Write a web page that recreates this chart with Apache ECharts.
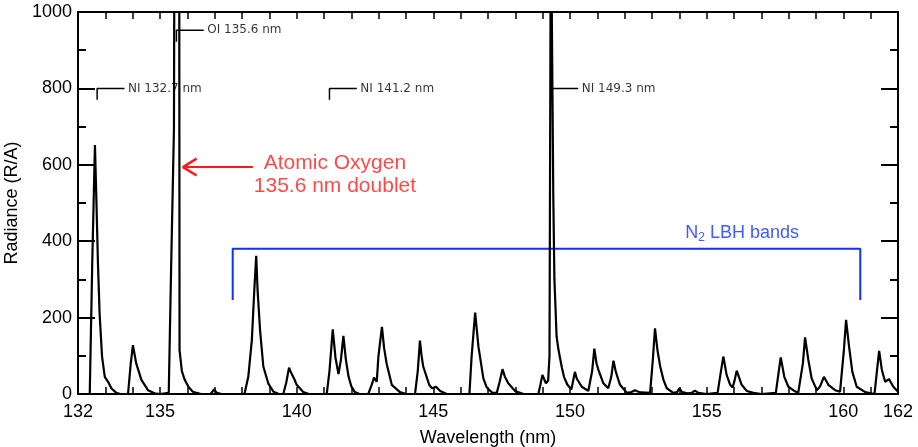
<!DOCTYPE html>
<html>
<head>
<meta charset="utf-8">
<script src="https://cdn.jsdelivr.net/npm/echarts@6/dist/echarts.min.js"></script>
<style>
  html, body { margin: 0; padding: 0; background: #fff; }
  #spectrum { width: 918px; height: 447px; }
</style>
</head>
<body>
<div id="spectrum"></div>
<script>
// tick labels shown on the wavelength axis
var xTickLabels = [132, 135, 140, 145, 150, 155, 160, 162];

// [wavelength nm, radiance R/A]
var spectrum = [
  [132.00, 0], [132.43, 0], [132.52, 340], [132.62, 652], [132.67, 516], [132.73, 342], [132.79, 211],
  [132.88, 98], [132.98, 45], [133.05, 40], [133.10, 32], [133.22, 15], [133.40, 3], [133.55, 0],
  [133.83, 0], [133.93, 80], [134.01, 128], [134.13, 80], [134.32, 37], [134.56, 10], [134.80, 2], [135.00, 0],
  [135.32, 3], [135.41, 342], [135.51, 691], [135.57, 2500], [135.63, 1500], [135.69, 2500], [135.715, 115],
  [135.80, 60], [135.90, 38], [136.04, 19], [136.20, 6], [136.50, 0],
  [136.85, 0], [136.98, 12], [137.08, 3], [137.25, 0],
  [138.09, 0], [138.23, 45], [138.36, 141], [138.45, 272], [138.52, 362], [138.57, 272], [138.66, 168],
  [138.78, 72], [138.96, 28], [139.15, 6], [139.35, 0],
  [139.51, 0], [139.62, 30], [139.72, 69], [139.78, 58], [139.84, 54], [139.92, 38], [140.00, 24], [140.24, 5], [140.45, 0],
  [141.10, 0], [141.20, 60], [141.32, 169], [141.42, 95], [141.53, 52], [141.62, 90], [141.71, 152],
  [141.80, 90], [141.90, 45], [142.00, 20], [142.13, 5], [142.30, 0],
  [142.62, 0], [142.75, 25], [142.83, 43], [142.93, 32], [142.99, 98], [143.12, 176], [143.20, 120],
  [143.29, 80], [143.48, 24], [143.78, 5], [144.00, 0],
  [144.33, 0], [144.43, 60], [144.51, 140], [144.57, 100], [144.63, 72], [144.85, 24], [144.95, 15],
  [145.10, 19], [145.25, 8], [145.49, 0],
  [146.32, 0], [146.40, 98], [146.53, 213], [146.65, 124], [146.83, 41], [146.95, 18], [147.05, 10], [147.15, 4],
  [147.32, 3], [147.42, 30], [147.53, 65], [147.62, 45], [147.74, 28], [147.99, 8], [148.30, 0],
  [148.84, 0], [148.92, 25], [148.99, 50], [149.06, 38], [149.12, 28], [149.20, 35], [149.25, 100],
  [149.30, 1300], [149.39, 508], [149.43, 300], [149.51, 150], [149.58, 115], [149.70, 70], [149.78, 45],
  [149.90, 25], [150.05, 12],
  [150.10, 15], [150.18, 58], [150.25, 40], [150.43, 19], [150.67, 8], [150.81, 60], [150.89, 119],
  [150.97, 80], [151.04, 63], [151.22, 28], [151.40, 15], [151.51, 45], [151.59, 87], [151.67, 60],
  [151.77, 37], [151.83, 24], [152.08, 3], [152.25, 5], [152.38, 10], [152.50, 6], [152.62, 4], [152.93, 3],
  [153.03, 89], [153.11, 172], [153.20, 115], [153.30, 72], [153.42, 37], [153.54, 15], [153.78, 3],
  [153.92, 5], [154.00, 15], [154.10, 5], [154.30, 2], [154.45, 3], [154.57, 9], [154.70, 3], [155.00, 0],
  [155.40, 3], [155.51, 54], [155.61, 98], [155.73, 50], [155.86, 24], [155.95, 17], [156.02, 35],
  [156.10, 61], [156.28, 24], [156.47, 8], [156.71, 3], [157.00, 0],
  [157.53, 3], [157.62, 50], [157.71, 96], [157.84, 45], [157.99, 19], [158.23, 7], [158.35, 3],
  [158.42, 3], [158.52, 80], [158.60, 148], [158.72, 89], [158.84, 41], [159.03, 10], [159.15, 20],
  [159.29, 45], [159.45, 24], [159.70, 10], [159.88, 6],
  [159.92, 5], [160.02, 115], [160.10, 194], [160.21, 124], [160.33, 58], [160.49, 19], [160.80, 5], [161.00, 2],
  [161.14, 0], [161.22, 54], [161.31, 113], [161.41, 63], [161.53, 32], [161.67, 39], [161.83, 19], [162.00, 6]
];

// emission line markers
var lineNames = ['NI 132.7 nm', 'OI 135.6 nm', 'NI 141.2 nm', 'NI 149.3 nm'];
var lineWaves = [132.7, 135.6, 141.2, 149.3];
var lineLevels = [800, 952, 800, 800];

// N2 LBH bracket (x range, foot and top level)
var lbhRange = [137.66, 160.62];
var lbhLevels = [246, 380];

// atomic oxygen arrow
var oxygenShaft = [[138.4, 594], [135.84, 594]];
var oxygenHead = [[136.34, 616], [135.84, 594], [136.34, 572]];

var font = '"Liberation Sans", Arial, Helvetica, sans-serif';
var red = '#ff1a1a';
var blue = '#1030ff';

function blankScatter(point, label) {
  return {
    type: 'scatter',
    data: [point],
    symbolSize: 1,
    itemStyle: { color: 'rgba(0,0,0,0)' },
    silent: true,
    label: label,
    z: 5
  };
}

var series = [];

series.push({
  type: 'line',
  data: spectrum,
  symbol: 'none',
  lineStyle: { color: '#000', width: 2.2 },
  silent: true,
  z: 3
});

lineWaves.forEach(function (w, i) {
  var lv = lineLevels[i];
  series.push({
    type: 'line',
    data: [[w, lv - 30], [w, lv], [w + 1, lv]],
    symbol: 'none',
    lineStyle: { color: '#000', width: 1.5 },
    silent: true,
    z: 2
  });
  series.push(blankScatter([w + 1, lv], {
    show: true,
    position: 'right',
    distance: 3,
    formatter: lineNames[i],
    color: '#000',
    fontFamily: '"DejaVu Sans", sans-serif',
    fontSize: 12
  }));
});

// blue bracket
series.push({
  type: 'line',
  data: [[lbhRange[0], lbhLevels[0]], [lbhRange[0], lbhLevels[1]], [lbhRange[1], lbhLevels[1]], [lbhRange[1], lbhLevels[0]]],
  symbol: 'none',
  lineStyle: { color: blue, width: 2 },
  silent: true,
  z: 2
});
series.push(blankScatter([156.3, 421], {
  show: true,
  position: 'inside',
  formatter: '{a|N}{s|2}{a| LBH bands}',
  rich: {
    a: { color: blue, fontSize: 18, fontFamily: font, lineHeight: 22 },
    s: { color: blue, fontSize: 12, fontFamily: font, lineHeight: 22, verticalAlign: 'bottom', padding: [8, 0, 0, 0] }
  }
}));

// red arrow and text
series.push({
  type: 'line',
  data: oxygenShaft,
  symbol: 'none',
  lineStyle: { color: red, width: 2 },
  silent: true,
  z: 4
});
series.push({
  type: 'line',
  data: oxygenHead,
  symbol: 'none',
  lineStyle: { color: red, width: 2.5 },
  silent: true,
  z: 4
});
series.push(blankScatter([141.4, 573], {
  show: true,
  position: 'inside',
  formatter: 'Atomic Oxygen\n135.6 nm doublet',
  color: red,
  fontFamily: font,
  fontSize: 21,
  lineHeight: 23,
  align: 'center'
}));

var axisLine = { show: true, onZero: false, lineStyle: { color: '#000', width: 2 } };

var option = {
  animation: false,
  backgroundColor: '#fff',
  grid: { left: 78, right: 20, top: 12, bottom: 53, containLabel: false, outerBoundsMode: 'none' },
  xAxis: [
    {
      type: 'value',
      min: 132, max: 162, interval: 1,
      axisLine: axisLine,
      axisTick: { show: true, inside: true, length: 7, lineStyle: { color: '#000', width: 1.5 } },
      axisLabel: {
        color: '#000', fontSize: 18, fontFamily: font, margin: 9,
        formatter: function (v) { return xTickLabels.indexOf(v) >= 0 ? String(v) : ''; }
      },
      splitLine: { show: false },
      name: 'Wavelength (nm)',
      nameLocation: 'middle',
      nameGap: 35,
      nameTextStyle: { color: '#000', fontSize: 18, fontFamily: font }
    },
    {
      type: 'value', position: 'top',
      min: 132, max: 162, interval: 1,
      axisLine: axisLine,
      axisTick: { show: true, inside: true, length: 7, lineStyle: { color: '#000', width: 1.5 } },
      axisLabel: { show: false },
      splitLine: { show: false }
    }
  ],
  yAxis: [
    {
      type: 'value',
      min: 0, max: 1000, interval: 200,
      axisLine: axisLine,
      axisTick: { show: true, inside: true, length: 17, lineStyle: { color: '#000', width: 2 } },
      minorTick: { show: true, splitNumber: 2, length: 8, lineStyle: { color: '#000', width: 2 } },
      axisLabel: {
        color: '#000', fontSize: 18, fontFamily: font, margin: 6,
        formatter: function (v) { return String(v); }
      },
      splitLine: { show: false },
      name: 'Radiance (R/A)',
      nameLocation: 'middle',
      nameGap: 48,
      nameTextStyle: { color: '#000', fontSize: 18, fontFamily: font }
    },
    {
      type: 'value', position: 'right',
      min: 0, max: 1000, interval: 200,
      axisLine: axisLine,
      axisTick: { show: true, inside: true, length: 17, lineStyle: { color: '#000', width: 2 } },
      minorTick: { show: true, splitNumber: 2, length: 8, lineStyle: { color: '#000', width: 2 } },
      axisLabel: { show: false },
      splitLine: { show: false }
    }
  ],
  series: series
};

var chart = echarts.init(document.getElementById('spectrum'));
chart.setOption(option);
</script>
</body>
</html>
